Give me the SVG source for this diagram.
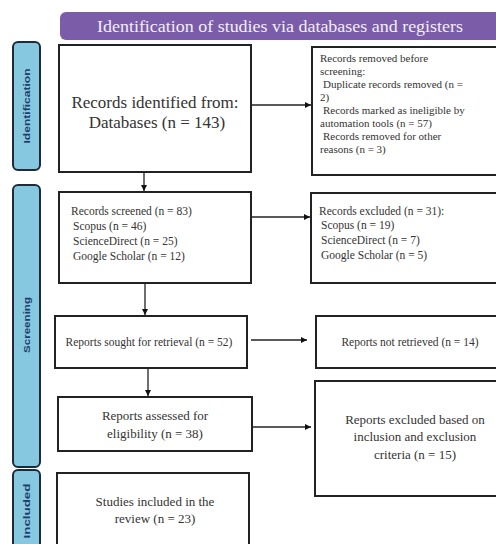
<svg xmlns="http://www.w3.org/2000/svg" width="496" height="544" viewBox="0 0 496 544">
<style>
.box{fill:#fff;stroke:#222;stroke-width:2}
.side{fill:#86c8e0;stroke:#1d2b3a;stroke-width:2}
.t{font-family:"Liberation Serif",serif;fill:#333}
.s{font-size:11.5px}
.r{font-size:11px}
.m{font-size:13px}
.l{font-size:17px}
.lab{font-family:"Liberation Sans",sans-serif;font-size:9px;font-weight:bold;fill:#1d3d6b}
.c{stroke:#222;stroke-width:1.3;fill:none;marker-end:url(#ah)}
</style>
<defs>
<marker id="ah" markerWidth="8" markerHeight="8" refX="6" refY="4" orient="auto" markerUnits="userSpaceOnUse">
<path d="M0,1 L6,4 L0,7 z" fill="#111"/>
</marker>
</defs>
<rect width="496" height="544" fill="#fff"/>
<g id="header">
<rect x="60" y="12" width="445" height="28" rx="6" fill="#7b5ca8"/>
<text x="280" y="32" text-anchor="middle" font-family="Liberation Serif, serif" font-size="17" fill="#f2eef8" textLength="366" lengthAdjust="spacingAndGlyphs">Identification of studies via databases and registers</text>
</g>
<g id="side-identification">
<rect class="side" x="13" y="42" width="27" height="128" rx="5"/>
<text class="lab" transform="translate(30,106) rotate(-90)" text-anchor="middle" textLength="75" lengthAdjust="spacingAndGlyphs">Identification</text>
</g>
<g id="side-screening">
<rect class="side" x="13" y="185" width="27" height="282" rx="5"/>
<text class="lab" transform="translate(30,325) rotate(-90)" text-anchor="middle" textLength="56" lengthAdjust="spacingAndGlyphs">Screening</text>
</g>
<g id="side-included">
<rect class="side" x="13" y="470" width="27" height="90" rx="5"/>
<text class="lab" transform="translate(30,511) rotate(-90)" text-anchor="middle" textLength="55" lengthAdjust="spacingAndGlyphs">Included</text>
</g>
<g id="connectors">
<line class="c" x1="251" y1="105" x2="311" y2="105"/>
<line class="c" x1="144" y1="172" x2="144" y2="191"/>
<line class="c" x1="251" y1="217" x2="310" y2="217"/>
<line class="c" x1="145" y1="283" x2="145" y2="315"/>
<line class="c" x1="251" y1="340" x2="307" y2="340"/>
<line class="c" x1="148" y1="368" x2="148" y2="396"/>
<line class="c" x1="252" y1="427" x2="311" y2="427"/>
</g>
<g id="records-identified">
<rect class="box" x="59" y="45" width="192" height="127"/>
<text class="t l" x="155" y="108" text-anchor="middle">Records identified from:</text>
<text class="t l" x="157" y="128" text-anchor="middle">Databases (n = 143)</text>
</g>
<g id="records-removed">
<rect class="box" x="312" y="47" width="190" height="128"/>
<text class="t r" x="320" y="62">Records removed before</text>
<text class="t r" x="320" y="75">screening:</text>
<text class="t r" x="323" y="88">Duplicate records removed (n =</text>
<text class="t r" x="320" y="101">2)</text>
<text class="t r" x="323" y="114">Records marked as ineligible by</text>
<text class="t r" x="320" y="127">automation tools (n = 57)</text>
<text class="t r" x="323" y="140">Records removed for other</text>
<text class="t r" x="320" y="153">reasons (n = 3)</text>
</g>
<g id="records-screened">
<rect class="box" x="59" y="192" width="192" height="91"/>
<text class="t s" x="71" y="215">Records screened (n = 83)</text>
<text class="t s" x="73" y="230">Scopus (n = 46)</text>
<text class="t s" x="73" y="245">ScienceDirect (n = 25)</text>
<text class="t s" x="73" y="260">Google Scholar (n = 12)</text>
</g>
<g id="records-excluded">
<rect class="box" x="311" y="193" width="191" height="90"/>
<text class="t s" x="319" y="215">Records excluded (n = 31):</text>
<text class="t s" x="321" y="229">Scopus (n = 19)</text>
<text class="t s" x="321" y="244">ScienceDirect (n = 7)</text>
<text class="t s" x="321" y="259">Google Scholar (n = 5)</text>
</g>
<g id="reports-sought">
<rect class="box" x="55" y="316" width="192" height="52"/>
<text class="t s" x="149" y="346" text-anchor="middle">Reports sought for retrieval (n = 52)</text>
</g>
<g id="reports-not-retrieved">
<rect class="box" x="316" y="316" width="186" height="52"/>
<text class="t s" x="410" y="346" text-anchor="middle">Reports not retrieved (n = 14)</text>
</g>
<g id="reports-assessed">
<rect class="box" x="58" y="397" width="194" height="54"/>
<text class="t m" x="155" y="420" text-anchor="middle">Reports assessed for</text>
<text class="t m" x="155" y="438" text-anchor="middle">eligibility (n = 38)</text>
</g>
<g id="reports-excluded">
<rect class="box" x="315" y="381" width="187" height="115"/>
<text class="t m" x="415" y="424" text-anchor="middle">Reports excluded based on</text>
<text class="t m" x="415" y="441" text-anchor="middle">inclusion and exclusion</text>
<text class="t m" x="415" y="459" text-anchor="middle">criteria (n = 15)</text>
</g>
<g id="studies-included">
<rect class="box" x="57" y="473" width="192" height="80"/>
<text class="t m" x="155" y="506" text-anchor="middle">Studies included in the</text>
<text class="t m" x="155" y="523" text-anchor="middle">review (n = 23)</text>
</g>
</svg>
